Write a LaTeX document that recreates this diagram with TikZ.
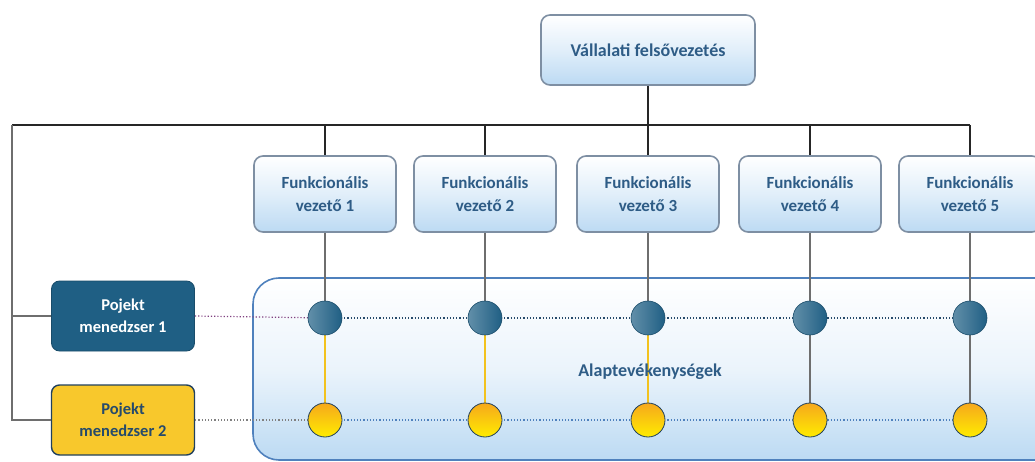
\documentclass[tikz,border=0pt]{standalone}
\usepackage{fontspec}
\setmainfont{Carlito}
\usetikzlibrary{shadows}
\definecolor{txtblue}{HTML}{2E5C86}
\definecolor{boxedge}{HTML}{7E8FA3}
\definecolor{lightblue}{HTML}{BCDAF3}
\definecolor{regionedge}{HTML}{4F81BD}
\definecolor{pmblue}{HTML}{1F5F84}
\definecolor{pmyellow}{HTML}{F8C82C}
\definecolor{linegray}{HTML}{6E6E6E}
\definecolor{linkyellow}{HTML}{F2C21E}
\definecolor{dotorange}{HTML}{F6A81C}
\begin{document}
\begin{tikzpicture}[x=1pt,y=-1pt,
  mgrbox/.style={draw=boxedge, line width=1.6pt, rounded corners=9pt,
    top color=white, bottom color=lightblue, middle color=white!55!lightblue,
    text=txtblue, font=\bfseries, align=center, inner sep=2pt},
  funcbox/.style={mgrbox, minimum width=142pt, minimum height=76pt, font=\bfseries\fontsize{17}{23}\selectfont},
  pmbox/.style={rounded corners=8pt, minimum width=143pt, minimum height=70pt,
    align=center, font=\bfseries\fontsize{16.5}{22}\selectfont},
  bluedot/.style={circle, minimum size=34pt, inner sep=0pt, draw=pmblue!80!black, line width=0.6pt,
    left color=pmblue!70!white, right color=pmblue},
  yellowdot/.style={circle, minimum size=34pt, inner sep=0pt, draw=txtblue!70!black, line width=0.8pt,
    top color=dotorange, bottom color=yellow!85!orange},
  busline/.style={draw=black!85, line width=1.6pt},
  stemline/.style={draw=linegray, line width=1.8pt},
  dotrow/.style={draw=txtblue!80!black, line width=1.2pt, dotted}
]
\useasboundingbox (0,0) rectangle (1035,462);

% background region of core activities
\begin{scope}
  \clip (0,0) rectangle (1035,462);
  \shade[top color=white, bottom color=lightblue, middle color=white!70!lightblue, rounded corners=26pt]
    (253,278) rectangle (1070,460);
  \draw[draw=regionedge, line width=1.6pt, rounded corners=26pt]
    (253,278) rectangle (1070,460);
\end{scope}

% top management
\node[mgrbox, minimum width=214pt, minimum height=70pt, font=\bfseries\fontsize{18}{22}\selectfont] (top) at (648,50) {Vállalati felsővezetés};

% functional managers
\node[funcbox] (f1) at (325,194) {Funkcionális\\vezető 1};
\node[funcbox] (f2) at (485,194) {Funkcionális\\vezető 2};
\node[funcbox] (f3) at (648,194) {Funkcionális\\vezető 3};
\node[funcbox] (f4) at (810,194) {Funkcionális\\vezető 4};
\node[funcbox] (f5) at (970,194) {Funkcionális\\vezető 5};

% project managers
\node[pmbox, fill=pmblue, draw=pmblue!80!black, line width=0.8pt, text=white] (pm1) at (123,316) {Pojekt\\menedzser 1};
\node[pmbox, fill=pmyellow, draw=txtblue!70!black, line width=1.4pt, text=txtblue!80!black] (pm2) at (123,420) {Pojekt\\menedzser 2};

% bus
\coordinate (busL) at (12,125);
\coordinate (busR) at (f5.north |- busL);
\draw[busline] (top.south) -- (top.south |- busL);
\draw[busline] (busL) -- (busR);
\foreach \i in {1,...,5} \draw[busline] (f\i.north |- busL) -- (f\i.north);
\draw[draw=linegray, line width=1.6pt] (busL) |- (pm2.west);
\draw[draw=linegray, line width=1.6pt] (busL |- pm1.west) -- (pm1.west);

% intersection points
\foreach \i in {1,...,5} {
  \coordinate (bp\i) at (f\i.south |- 0,318);
  \coordinate (yp\i) at (f\i.south |- 0,420);
}
% vertical stems
\foreach \i in {1,...,5} \draw[stemline] (f\i.south) -- (bp\i);
\foreach \i in {1,2,3} \draw[draw=linkyellow, line width=2pt] (bp\i) -- (yp\i);
\foreach \i in {4,5} \draw[stemline] (bp\i) -- (yp\i);

% dotted project rows
\draw[dotrow, draw=violet!50!gray] (pm1.east) -- (bp1);
\draw[dotrow] (bp1) -- (bp5);
\draw[dotrow, draw=gray] (pm2.east) -- (yp1);
\draw[dotrow, draw=regionedge] (yp1) -- (yp5);

\foreach \i in {1,...,5} {
  \node[bluedot] (b\i) at (bp\i) {};
  \node[yellowdot] (y\i) at (yp\i) {};
}

\node[text=txtblue, font=\bfseries\fontsize{18}{20}\selectfont] (core) at (650,372) {Alaptevékenységek};
\end{tikzpicture}
\end{document}
